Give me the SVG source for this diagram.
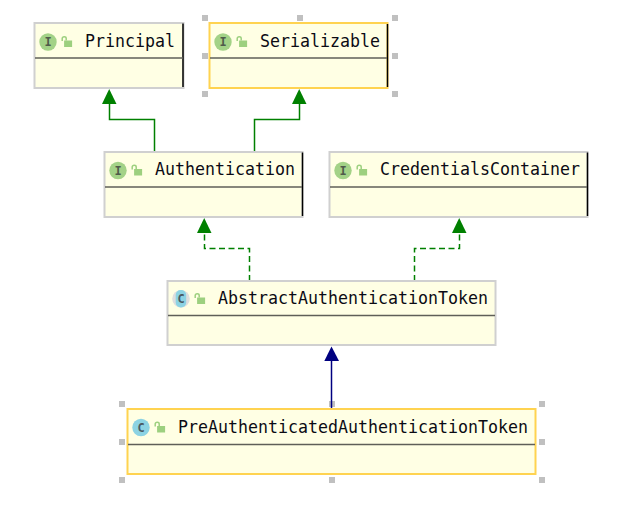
<svg xmlns="http://www.w3.org/2000/svg" width="621" height="525" viewBox="0 0 621 525">
<style>
.box{fill:#ffffe4;stroke:#d0d0d0;stroke-width:2}
.sel{fill:#ffffe4;stroke:#ffd350;stroke-width:2}
.edge{fill:none;stroke:#000;stroke-width:1.5}
.sep{stroke:#5f5f58;stroke-width:1.5}
.name{font-family:"DejaVu Sans Mono","Liberation Mono",monospace;font-size:17px;fill:#0b0b14}
.ibg{fill:#a3d287}
.cbg{fill:#8cd3e3}
.glyph{font-family:"DejaVu Sans Mono","Liberation Mono",monospace;font-size:12px;font-weight:bold;fill:#4f5b4a;text-anchor:middle}
.lock{fill:#9dd07f}
.shack{fill:none;stroke:#9dd07f;stroke-width:1.500}
.h{fill:#c0c0c0}
.g{fill:none;stroke:#008000;stroke-width:1.500}
.d{stroke-dasharray:6 3.500}
.b{fill:none;stroke:#000080;stroke-width:1.500}
</style>
<defs>
<g id="lock"><rect x="2.600" y="4" width="8" height="6.500" class="lock"/><path d="M0.700 4.500V2Q0.700 0.300 2.700 0.300Q4.700 0.300 4.700 2V4" class="shack"/></g>
</defs>
<g id="handles-under">
<rect class="h" x="329" y="401" width="6" height="6"/>
</g>
<g id="connectors">
<path class="g" d="M154.500 152V119.500H109.500V102"/><path d="M109.200 89L102 104H116.500Z" fill="#008000"/>
<path class="g" d="M254.500 152V119.500H299.500V102"/><path d="M299.200 89L292 104H306.500Z" fill="#008000"/>
<path class="g d" d="M249.500 281V248.500H204.500V232"/><path d="M204.200 218L197 233H211.500Z" fill="#008000"/>
<path class="g d" d="M414.500 281V248.500H459.500V232"/><path d="M459.200 218L452 233H466.500Z" fill="#008000"/>
<path class="b" d="M331.500 409V360"/><path d="M331.500 346.500L324.300 361H339Z" fill="#000080"/>
</g>
<g id="principal">
<rect class="box" x="34.500" y="23" width="149" height="65"/>
<path class="edge" d="M183 23.500V87"/>
<path class="sep" d="M35 58H183"/>
<circle class="ibg" cx="48" cy="42" r="8.700"/><text class="glyph" x="48" y="46">I</text>
<use href="#lock" x="61.500" y="36.500"/>
<text class="name" x="85" y="46.500" textLength="90" lengthAdjust="spacingAndGlyphs">Principal</text>
</g>
<g id="serializable">
<rect class="sel" x="209.500" y="23" width="178" height="65"/>
<path class="edge" d="M387.500 24V87"/>
<path class="sep" d="M210 58H387"/>
<circle class="ibg" cx="223" cy="42" r="8.700"/><text class="glyph" x="223" y="46">I</text>
<use href="#lock" x="236.500" y="36.500"/>
<text class="name" x="260" y="46.500" textLength="120" lengthAdjust="spacingAndGlyphs">Serializable</text>
<rect class="h" x="202" y="15" width="6" height="6"/><rect class="h" x="297" y="15" width="6" height="6"/><rect class="h" x="392" y="15" width="6" height="6"/>
<rect class="h" x="202" y="53" width="6" height="6"/><rect class="h" x="392" y="53" width="6" height="6"/>
<rect class="h" x="202" y="91" width="6" height="6"/><rect class="h" x="392" y="91" width="6" height="6"/>
</g>
<g id="authentication">
<rect class="box" x="104.500" y="152" width="198" height="65"/>
<path class="edge" d="M302.500 152.500V216"/>
<path class="sep" d="M105 187H302"/>
<circle class="ibg" cx="118" cy="170.500" r="8.700"/><text class="glyph" x="118" y="174.500">I</text>
<use href="#lock" x="131.500" y="165"/>
<text class="name" x="155" y="175" textLength="140" lengthAdjust="spacingAndGlyphs">Authentication</text>
</g>
<g id="credentialsContainer">
<rect class="box" x="329.500" y="152" width="258" height="65"/>
<path class="edge" d="M587.500 152.500V216"/>
<path class="sep" d="M330 187H587"/>
<circle class="ibg" cx="343" cy="170.500" r="8.700"/><text class="glyph" x="343" y="174.500">I</text>
<use href="#lock" x="356.500" y="165"/>
<text class="name" x="380" y="175" textLength="200" lengthAdjust="spacingAndGlyphs">CredentialsContainer</text>
</g>
<g id="abstractAuthenticationToken">
<rect class="box" x="167.500" y="281" width="328" height="64"/>
<path class="sep" d="M168 315.500H495"/>
<circle cx="181" cy="298.700" r="8.800" fill="#dedede"/>
<rect x="175.700" y="290" width="10.500" height="17.400" rx="5" class="cbg"/>
<text class="glyph" x="181" y="302.700" style="fill:#4a5a62">C</text>
<use href="#lock" x="194.500" y="293.500"/>
<text class="name" x="218" y="304" textLength="270" lengthAdjust="spacingAndGlyphs">AbstractAuthenticationToken</text>
</g>
<g id="preAuthenticatedAuthenticationToken">
<rect class="sel" x="127.500" y="409" width="408" height="65"/>
<path class="sep" d="M128 444.500H535"/>
<circle class="cbg" cx="141" cy="427.500" r="8.700"/><text class="glyph" x="141" y="431.500" style="fill:#4a5a62">C</text>
<use href="#lock" x="154.500" y="422"/>
<text class="name" x="178" y="433" textLength="350" lengthAdjust="spacingAndGlyphs">PreAuthenticatedAuthenticationToken</text>
<rect class="h" x="119" y="401" width="6" height="6"/><rect class="h" x="539" y="401" width="6" height="6"/>
<rect class="h" x="119" y="439" width="6" height="6"/><rect class="h" x="539" y="439" width="6" height="6"/>
<rect class="h" x="119" y="477" width="6" height="6"/><rect class="h" x="329" y="477" width="6" height="6"/><rect class="h" x="539" y="477" width="6" height="6"/>
</g>
</svg>
